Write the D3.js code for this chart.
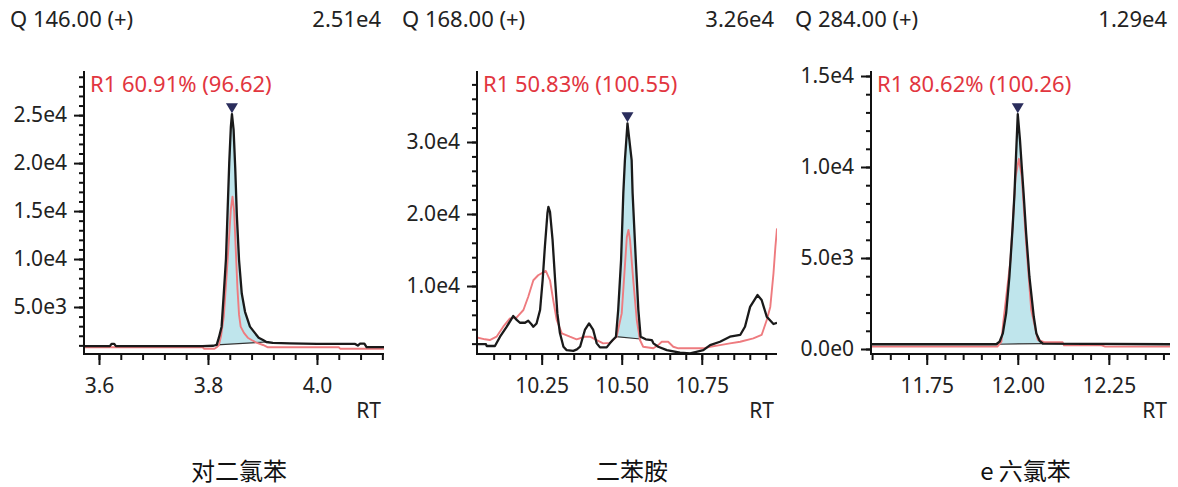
<!DOCTYPE html>
<html>
<head>
<meta charset="utf-8">
<script src="https://cdn.jsdelivr.net/npm/d3@7"></script>
<style>
  html, body { margin: 0; padding: 0; background: #fff; }
  svg { display: block; }
  text { font-family: "Noto Sans", "Open Sans", sans-serif; fill: #222; }
  .cjk { font-family: "Noto Sans CJK SC", "Noto Sans", sans-serif; }
</style>
</head>
<body>
<svg id="chart" width="1178" height="487"></svg>
<script>
// ---- data -------------------------------------------------------------
const compounds = ["对二氯苯", "二苯胺", "e 六氯苯"];
const quantIons = ["Q 146.00 (+)", "Q 168.00 (+)", "Q 284.00 (+)"];
const apexHeights = [25100, 32600, 12900];
const apexTimes = [3.844, 10.518, 12.0];
const ratioLabels = ["R1 60.91% (96.62)", "R1 50.83% (100.55)", "R1 80.62% (100.26)"];

// retention-time windows shown for each chromatogram
const rtWindows = [[3.5725, 4.123], [10.048, 10.985], [11.597, 12.418]];
// intensity ranges of the vertical axes
const intensityRanges = [[100, 29600], [560, 39860], [-275, 15275]];

// axis ticks
const rtMajorTicks = [[3.6, 3.8, 4.0], [10.25, 10.5, 10.75], [11.75, 12.0, 12.25]];
const rtMinorTicks = [
  [3.6, 3.64, 3.68, 3.72, 3.76, 3.8, 3.84, 3.88, 3.92, 3.96, 4.0, 4.04, 4.08, 4.12],
  [10.1, 10.15, 10.2, 10.25, 10.3, 10.35, 10.4, 10.45, 10.5, 10.55, 10.6, 10.65, 10.7, 10.75, 10.8, 10.85, 10.9, 10.95],
  [11.6, 11.65, 11.7, 11.75, 11.8, 11.85, 11.9, 11.95, 12.0, 12.05, 12.1, 12.15, 12.2, 12.25, 12.3, 12.35, 12.4]
];
const rtDecimals = [1, 2, 2];
const intensityMajorTicks = [
  [5000, 10000, 15000, 20000, 25000],
  [10000, 20000, 30000],
  [0, 5000, 10000, 15000]
];
const intensityMinorTicks = [
  d3.range(1000, 29001, 1000),
  d3.range(2000, 38001, 2000),
  d3.range(0, 15001, 1000)
];

// quantifier ion traces [rt, intensity]
const quant146 = [
  [3.5725, 920], [3.620, 920], [3.623, 1150], [3.628, 1150], [3.631, 920], [3.700, 920],
  [3.790, 930], [3.810, 960], [3.816, 1050], [3.820, 1800], [3.825, 2950], [3.829, 6400],
  [3.833, 10000], [3.836, 15000], [3.839, 20000], [3.842, 23800], [3.844, 25100],
  [3.847, 23500], [3.850, 19500], [3.853, 14500], [3.857, 9900], [3.862, 6400],
  [3.868, 4500], [3.877, 2950], [3.886, 2300], [3.893, 1800], [3.901, 1560],
  [3.907, 1350], [3.919, 1250], [3.950, 1200], [4.000, 1150], [4.070, 1150],
  [4.075, 980], [4.079, 1180], [4.087, 1180], [4.091, 820], [4.123, 820]
];
const quant168 = [
  [10.048, 1940], [10.076, 1940], [10.078, 1670], [10.104, 1670], [10.120, 2960],
  [10.141, 4350], [10.161, 5830], [10.172, 5300], [10.182, 4900], [10.198, 4900],
  [10.208, 5180], [10.218, 4700], [10.224, 4350], [10.234, 4800], [10.245, 6670],
  [10.253, 10800], [10.260, 15460], [10.268, 20100], [10.271, 21000], [10.276, 20300],
  [10.284, 16400], [10.292, 10800], [10.299, 6200], [10.307, 3470], [10.318, 1570],
  [10.328, 1100], [10.349, 1000], [10.360, 1200], [10.370, 1570], [10.385, 3900],
  [10.398, 4800], [10.411, 3900], [10.422, 2040], [10.432, 1480], [10.453, 1480],
  [10.463, 2040], [10.472, 2500], [10.482, 2960], [10.489, 6670], [10.498, 13600],
  [10.505, 22900], [10.510, 27500], [10.518, 32600], [10.531, 27500], [10.534, 22900],
  [10.544, 13600], [10.552, 6670], [10.559, 2960], [10.575, 2600], [10.594, 2500],
  [10.599, 2040], [10.614, 1570], [10.641, 1100], [10.682, 740], [10.714, 650],
  [10.755, 1100], [10.776, 1800], [10.807, 2260], [10.838, 2960], [10.870, 3200],
  [10.885, 4350], [10.901, 7100], [10.924, 8750], [10.937, 8060], [10.953, 5740],
  [10.974, 4720], [10.985, 4900]
];
const quant284 = [
  [11.597, 260], [11.941, 260], [11.950, 400], [11.959, 860], [11.968, 1960],
  [11.977, 3970], [11.986, 6720], [11.991, 8550], [11.995, 10500], [12.000, 12900],
  [12.006, 11500], [12.011, 10000], [12.016, 8550], [12.023, 6360], [12.032, 3970],
  [12.044, 1770], [12.051, 860], [12.060, 450], [12.069, 300], [12.418, 260]
];

// qualifier ion traces [rt, intensity]
const qual146 = [
  [3.5725, 800], [3.790, 800], [3.793, 650], [3.812, 650], [3.816, 800], [3.820, 1000],
  [3.824, 2000], [3.829, 4000], [3.835, 9000], [3.839, 12500], [3.842, 15200],
  [3.845, 16500], [3.848, 15000], [3.851, 11000], [3.854, 7000], [3.857, 4200],
  [3.860, 2950], [3.866, 2300], [3.873, 1800], [3.880, 1560], [3.890, 1250],
  [3.901, 1040], [3.910, 800], [4.040, 800], [4.043, 640], [4.123, 640]
];
const qual168 = [
  [10.047, 2870], [10.073, 2600], [10.088, 2500], [10.109, 2960], [10.130, 4350],
  [10.151, 5510], [10.172, 5650], [10.193, 6670], [10.208, 8510], [10.224, 10800],
  [10.239, 11500], [10.263, 12100], [10.276, 10800], [10.286, 8060], [10.297, 5280],
  [10.313, 3430], [10.338, 2960], [10.359, 2600], [10.385, 2960], [10.401, 2960],
  [10.422, 2500], [10.442, 2040], [10.463, 2100], [10.484, 2960], [10.500, 6200],
  [10.516, 16800], [10.521, 17800], [10.526, 16400], [10.536, 10800], [10.547, 5280],
  [10.557, 2500], [10.567, 1570], [10.599, 1350], [10.614, 1800], [10.625, 2260],
  [10.645, 2260], [10.661, 1570], [10.677, 1350], [10.755, 1350], [10.776, 1570],
  [10.807, 1800], [10.838, 2040], [10.870, 2260], [10.911, 2730], [10.937, 3200],
  [10.953, 5280], [10.964, 7100], [10.974, 11760], [10.980, 15460], [10.985, 18000]
];
const qual284 = [
  [11.597, 130], [11.944, 130], [11.955, 400], [11.961, 1600], [11.980, 4890],
  [11.994, 9470], [12.003, 10450], [12.011, 9470], [12.023, 5800], [12.037, 2140],
  [12.055, 500], [12.073, 370], [12.123, 370], [12.127, 200], [12.230, 200],
  [12.240, 130], [12.418, 130]
];

// integrated peak baselines [[rt start, intensity], [rt end, intensity]]
const baseline146 = [[3.816, 1050], [3.907, 1350]];
const baseline168 = [[10.482, 2960], [10.559, 2640]];
const baseline284 = [[11.941, 260], [12.069, 300]];

const quantTraces = [quant146, quant168, quant284];
const qualTraces = [qual146, qual168, qual284];
const peakBaselines = [baseline146, baseline168, baseline284];

// ---- layout ---------------------------------------------------------------
const panelLeft = [0, 392, 785];
const plotLeft = [84, 477, 871];
const plotRight = [384, 777, 1170];
const plotTop = 71, plotBottom = 354;
const labelSize = "21px";
const titleSize = "22px";

const svg = d3.select("#chart");

function sci(v, digits) {
  if (v === 0) return (0).toFixed(digits) + "e0";
  const e = Math.floor(Math.log10(Math.abs(v)));
  const m = v / Math.pow(10, e);
  return m.toFixed(digits) + "e" + e;
}

compounds.forEach((name, i) => {
  const x = d3.scaleLinear().domain(rtWindows[i]).range([plotLeft[i], plotRight[i]]);
  const y = d3.scaleLinear().domain(intensityRanges[i]).range([plotBottom, plotTop]);
  const g = svg.append("g");

  // header: quantifier ion and apex height
  g.append("text")
    .attr("x", panelLeft[i] + 10).attr("y", 27)
    .style("font-size", titleSize)
    .text(quantIons[i]);
  g.append("text")
    .attr("x", plotRight[i] - 3).attr("y", 27)
    .attr("text-anchor", "end")
    .style("font-size", titleSize)
    .text(sci(apexHeights[i], 2));

  const clipId = "clip" + i;
  g.append("clipPath").attr("id", clipId)
    .append("rect")
    .attr("x", plotLeft[i]).attr("y", plotTop - 20)
    .attr("width", plotRight[i] - plotLeft[i]).attr("height", plotBottom - plotTop + 19);
  const plot = g.append("g").attr("clip-path", `url(#${clipId})`);

  // integrated area between the trace and the peak baseline
  const [b0, b1] = peakBaselines[i];
  const baseAt = rt => b0[1] + (b1[1] - b0[1]) * (rt - b0[0]) / (b1[0] - b0[0]);
  const inPeak = quantTraces[i].filter(d => d[0] >= b0[0] - 1e-9 && d[0] <= b1[0] + 1e-9);
  plot.append("path")
    .datum(inPeak)
    .attr("fill", "#bfe5ec")
    .attr("d", d3.area()
      .x(d => x(d[0]))
      .y0(d => y(baseAt(d[0])))
      .y1(d => y(d[1])));
  plot.append("line")
    .attr("x1", x(b0[0])).attr("y1", y(b0[1]))
    .attr("x2", x(b1[0])).attr("y2", y(b1[1]))
    .attr("stroke", "#333").attr("stroke-width", 1.2);

  const line = d3.line().x(d => x(d[0])).y(d => y(d[1]));
  plot.append("path")
    .datum(qualTraces[i])
    .attr("fill", "none")
    .attr("stroke", "#ee7b7f")
    .attr("stroke-width", 1.9)
    .attr("stroke-linejoin", "round")
    .attr("d", line);
  plot.append("path")
    .datum(quantTraces[i])
    .attr("fill", "none")
    .attr("stroke", "#1a1a1a")
    .attr("stroke-width", 2.3)
    .attr("stroke-linejoin", "round")
    .attr("d", line);

  // apex marker
  const ax = x(apexTimes[i]), ay = y(apexHeights[i]) - 1;
  g.append("path")
    .attr("d", `M${ax - 6},${ay - 10}L${ax + 6},${ay - 10}L${ax},${ay}Z`)
    .attr("fill", "#2a2d5c");

  // ion ratio label
  g.append("text")
    .attr("x", plotLeft[i] + 6).attr("y", 92)
    .style("font-size", titleSize)
    .style("fill", "#e2363f")
    .text(ratioLabels[i]);

  // y axis
  const yMinor = d3.axisLeft(y).tickValues(intensityMinorTicks[i]).tickSize(5).tickFormat("").tickSizeOuter(0);
  const yMajor = d3.axisLeft(y).tickValues(intensityMajorTicks[i]).tickSize(10).tickPadding(7)
    .tickFormat(v => sci(v, 1)).tickSizeOuter(0);
  const ya = g.append("g").attr("transform", `translate(${plotLeft[i]},0)`);
  ya.call(yMinor);
  ya.append("g").call(yMajor);
  ya.selectAll(".domain").remove();
  ya.selectAll("line").attr("stroke", "#111").attr("stroke-width", 2);
  ya.selectAll("text").style("font-size", labelSize).style("fill", "#222")
    .style("font-family", "'Noto Sans', sans-serif");

  // x axis
  const xMinor = d3.axisBottom(x).tickValues(rtMinorTicks[i]).tickSize(6).tickFormat("").tickSizeOuter(0);
  const xMajor = d3.axisBottom(x).tickValues(rtMajorTicks[i]).tickSize(11).tickPadding(13)
    .tickFormat(v => v.toFixed(rtDecimals[i])).tickSizeOuter(0);
  const xa = g.append("g").attr("transform", `translate(0,${plotBottom})`);
  xa.call(xMinor);
  xa.append("g").call(xMajor);
  xa.selectAll(".domain").remove();
  xa.selectAll("line").attr("stroke", "#111").attr("stroke-width", 2);
  xa.selectAll("text").style("font-size", labelSize).style("fill", "#222")
    .style("font-family", "'Noto Sans', sans-serif");

  // axis frame lines
  g.append("path")
    .attr("d", `M${plotLeft[i]},${plotTop}V${plotBottom}H${plotRight[i]}`)
    .attr("fill", "none").attr("stroke", "#111").attr("stroke-width", 2);

  g.append("text")
    .attr("x", plotRight[i] - 3).attr("y", 418)
    .attr("text-anchor", "end")
    .style("font-size", labelSize)
    .text("RT");

  // compound name
  g.append("text")
    .attr("class", "cjk")
    .attr("x", (plotLeft[i] + plotRight[i]) / 2 + 5).attr("y", 480)
    .attr("text-anchor", "middle")
    .style("font-size", "24px")
    .style("fill", "#111")
    .text(name);
});
</script>
</body>
</html>
